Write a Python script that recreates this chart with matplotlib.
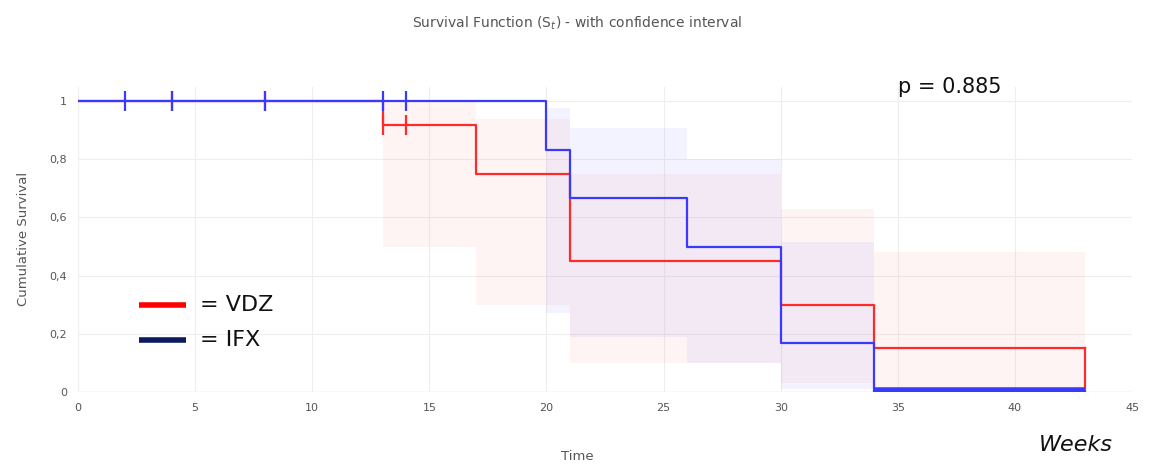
import numpy as np
import matplotlib.pyplot as plt

# Kaplan-Meier steps (time, survival after step)
vdz_t = [0, 13, 17, 21, 30, 34, 43]
vdz_s = [1, 0.917, 0.75, 0.45, 0.30, 0.15, 0.15]
ifx_t = [0, 20, 21, 26, 30, 34, 43]
ifx_s = [1, 0.833, 0.667, 0.50, 0.167, 0.0, 0.0]

# confidence bands per interval
vdz_ci_t = [13, 17, 21, 30, 34, 43]
vdz_ci_lo = [0.50, 0.30, 0.10, 0.03, 0.0]
vdz_ci_hi = [1.00, 0.94, 0.75, 0.63, 0.48]
ifx_ci_t = [20, 21, 26, 30, 34]
ifx_ci_lo = [0.27, 0.19, 0.10, 0.01]
ifx_ci_hi = [0.975, 0.907, 0.80, 0.515]

# censored observations
vdz_cens_t = [4, 8, 13, 14]
vdz_cens_s = [1, 1, 0.917, 0.917]
ifx_cens_t = [2, 4, 8, 13, 14]
ifx_cens_s = [1, 1, 1, 1, 1]

red = '#ff2a2a'
blue = '#3a3aff'
grey = '#555555'

fig = plt.figure(figsize=(11.54, 4.66), dpi=100)
ax = fig.add_axes([0.0676, 0.159, 0.9134, 0.655])

for i in range(len(vdz_ci_lo)):
    ax.fill_between([vdz_ci_t[i], vdz_ci_t[i + 1]], vdz_ci_lo[i], vdz_ci_hi[i],
                    color=red, alpha=0.05, linewidth=0)
for i in range(len(ifx_ci_lo)):
    ax.fill_between([ifx_ci_t[i], ifx_ci_t[i + 1]], ifx_ci_lo[i], ifx_ci_hi[i],
                    color=blue, alpha=0.06, linewidth=0)

ax.step(vdz_t, vdz_s, where='post', color=red, lw=1.6, zorder=3)
ax.plot([vdz_t[-1], vdz_t[-1]], [vdz_s[-1], 0], color=red, lw=1.6, zorder=3)
ax.step(ifx_t, ifx_s, where='post', color=blue, lw=1.6, zorder=4)
ax.plot([34, 43], [0.005, 0.005], color=blue, lw=4, zorder=4, solid_capstyle='butt')

ax.plot(vdz_cens_t, vdz_cens_s, linestyle='none', marker='|', ms=14, mew=1.6, color=red, zorder=3)
ax.plot(ifx_cens_t, ifx_cens_s, linestyle='none', marker='|', ms=14, mew=1.6, color=blue, zorder=4)

ax.set_xlim(0, 45)
ax.set_ylim(0, 1.05)
ax.set_xticks(np.arange(0, 46, 5))
ax.set_yticks([0, 0.2, 0.4, 0.6, 0.8, 1.0])
ax.set_yticklabels(['0', '0,2', '0,4', '0,6', '0,8', '1'])
ax.tick_params(length=0, labelsize=8, colors=grey, pad=8)
ax.grid(True, color='#eeeeee', lw=0.8)
ax.set_axisbelow(True)
for sp in ax.spines.values():
    sp.set_visible(False)
ax.axhline(0, color='#e4e4e4', lw=1, zorder=0)

ax.set_ylabel('Cumulative Survival', color=grey, fontsize=9.5, labelpad=14)

fig.text(0.5, 0.95, 'Survival Function (S$_t$) - with confidence interval',
         ha='center', va='center', color=grey, fontsize=10)
fig.text(0.5, 0.02, 'Time', ha='center', va='center', color=grey, fontsize=9.5)
fig.text(0.823, 0.813, 'p = 0.885', ha='center', va='center', fontsize=15, color='#111111')
fig.text(0.932, 0.045, 'Weeks', ha='center', va='center', fontsize=16, style='italic', color='#111111')

# hand-drawn style legend
ax.plot([2.6, 4.6], [0.30, 0.30], color='#ff0000', lw=4, solid_capstyle='butt')
ax.plot([2.6, 4.6], [0.18, 0.18], color='#0b1a5e', lw=4, solid_capstyle='butt')
ax.text(5.2, 0.30, '= VDZ', fontsize=16, va='center', color='#111111')
ax.text(5.2, 0.18, '= IFX', fontsize=16, va='center', color='#111111')

fig.savefig('out.png')
